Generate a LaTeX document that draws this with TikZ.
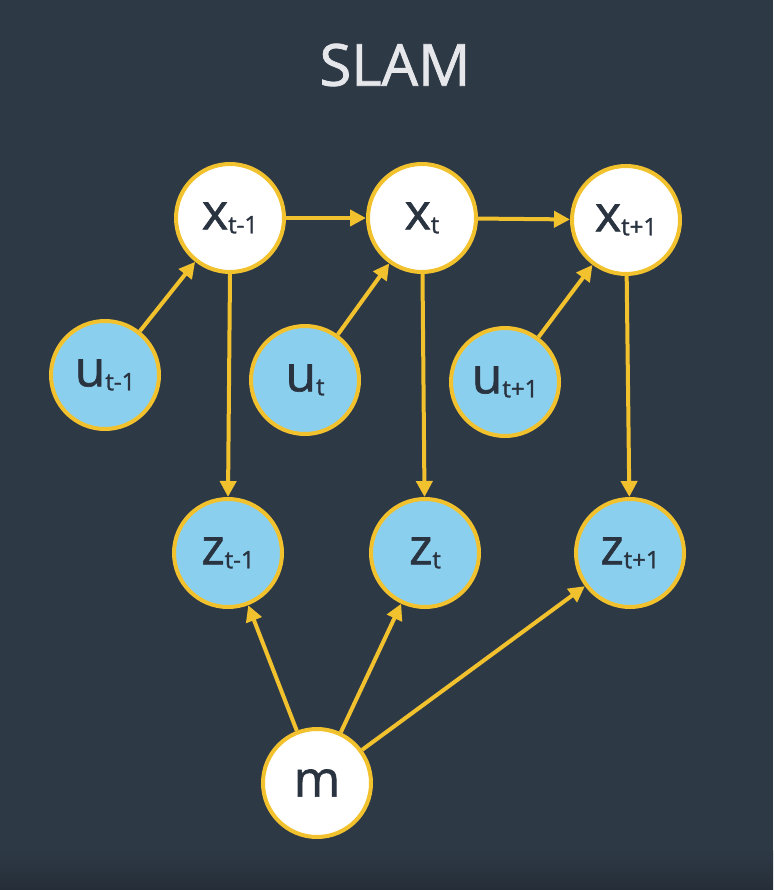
\documentclass[tikz,border=0pt]{standalone}
\usepackage{fontspec}
\setmainfont{Open Sans}
\newfontface\semib{Open Sans}[FakeBold=1.3]
\usetikzlibrary{arrows.meta}
\definecolor{slate}{HTML}{2E3946}
\definecolor{slatedark}{HTML}{252E38}
\definecolor{ink}{HTML}{2A3340}
\definecolor{gold}{HTML}{F2C12E}
\definecolor{sky}{HTML}{8ACFEE}
\definecolor{titlegrey}{HTML}{E6E7EA}
\newcommand{\varlabel}[2]{{\fontsize{50}{50}\selectfont #1}\raisebox{-0.4em}{\fontsize{24}{24}\selectfont #2}}

\tikzset{
  state/.style={circle,draw=gold,line width=4pt,fill=white,minimum size=108pt,inner sep=0pt,text=ink,font=\semib},
  given/.style={state,fill=sky},
  link/.style={draw=gold,line width=4pt,-{Triangle[length=16pt,width=16pt]}}
}

\begin{document}
\begin{tikzpicture}[x=1pt,y=-1pt]

\fill[slate] (0,0) rectangle (773,890);
\shade[top color=slate,bottom color=slatedark] (0,850) rectangle (773,890);
\useasboundingbox (0,0) rectangle (773,890);

\node[text=titlegrey,font=\semib\fontsize{58}{58}\selectfont] (title) at (395,65) {SLAM};

% poses
\node[state] (xa) at (230,218) {\varlabel{x}{t-1}};
\node[state] (xb) at (422,218) {\varlabel{x}{t}};
\node[state] (xc) at (626,220) {\varlabel{x}{t+1}};

% controls
\node[given] (ua) at (105,375) {\varlabel{u}{t-1}};
\node[given] (ub) at (305,380) {\varlabel{u}{t}};
\node[given] (uc) at (505,382) {\varlabel{u}{t+1}};

% measurements
\node[given] (za) at (228,553) {\varlabel{z}{t-1}};
\node[given] (zb) at (425,553) {\varlabel{z}{t}};
\node[given] (zc) at (630,553) {\varlabel{z}{t+1}};

% map
\node[state] (m) at (317,783) {{\fontsize{50}{50}\selectfont m}};

\draw[link] (xa) -- (xb);
\draw[link] (xb) -- (xc);
\draw[link] (ua) -- (xa);
\draw[link] (ub) -- (xb);
\draw[link] (uc) -- (xc);
\draw[link] (xa.south) -- (za.north);
\draw[link] (xb) -- (zb);
\draw[link] (xc) -- (zc);
\draw[link] (m) -- (za);
\draw[link] (m) -- (zb);
\draw[link] (m) -- (zc);

\end{tikzpicture}
\end{document}
